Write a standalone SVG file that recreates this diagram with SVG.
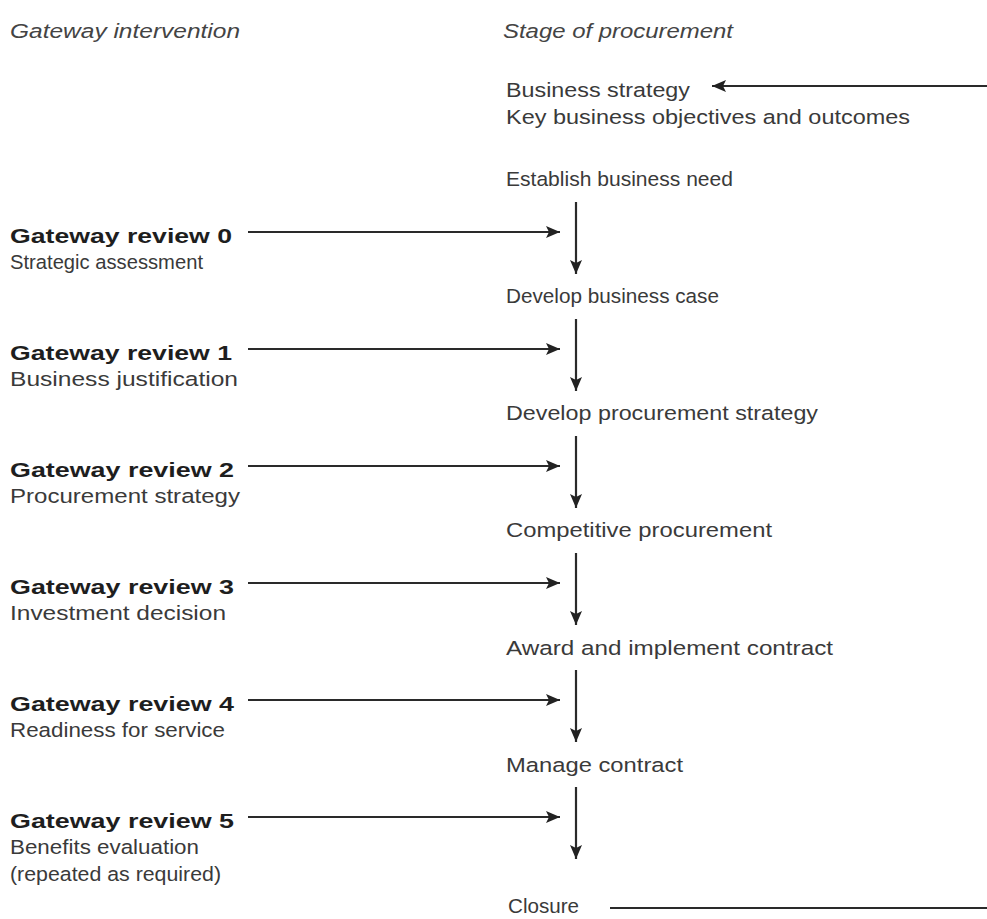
<svg xmlns="http://www.w3.org/2000/svg" width="987" height="919" viewBox="0 0 987 919">
<defs>
<marker id="ah" viewBox="0 0 14 12" refX="14" refY="6" markerWidth="14" markerHeight="12" markerUnits="userSpaceOnUse" orient="auto">
<path d="M0,0 L14,6 L0,12 L3,6 Z" fill="#222"/>
</marker>
<style>
text{font-family:"Liberation Sans",Arial,sans-serif;font-size:20.5px;fill:#3a3a3a}
.h{font-style:italic;fill:#444}
.b{font-weight:bold;fill:#1e1e1e}
.c{stroke:#2a2a2a;stroke-width:2.2;fill:none}
</style>
</defs>
<rect width="987" height="919" fill="#fff"/>
<g id="headers">
<text class="h" x="10" y="38" textLength="230" lengthAdjust="spacingAndGlyphs">Gateway intervention</text>
<text class="h" x="503" y="38" textLength="230" lengthAdjust="spacingAndGlyphs">Stage of procurement</text>
</g>
<g id="stage-strategy">
<text x="506" y="97" textLength="184" lengthAdjust="spacingAndGlyphs">Business strategy</text>
<text x="506" y="124" textLength="404" lengthAdjust="spacingAndGlyphs">Key business objectives and outcomes</text>
</g>
<g id="stage-need"><text x="506" y="186" textLength="227" lengthAdjust="spacingAndGlyphs">Establish business need</text></g>
<g id="stage-case"><text x="506" y="303" textLength="213" lengthAdjust="spacingAndGlyphs">Develop business case</text></g>
<g id="stage-procstrat"><text x="506" y="420" textLength="312" lengthAdjust="spacingAndGlyphs">Develop procurement strategy</text></g>
<g id="stage-competitive"><text x="506" y="537" textLength="266" lengthAdjust="spacingAndGlyphs">Competitive procurement</text></g>
<g id="stage-award"><text x="506" y="655" textLength="327" lengthAdjust="spacingAndGlyphs">Award and implement contract</text></g>
<g id="stage-manage"><text x="506" y="772" textLength="177" lengthAdjust="spacingAndGlyphs">Manage contract</text></g>
<g id="stage-closure"><text x="508" y="913" textLength="71" lengthAdjust="spacingAndGlyphs">Closure</text></g>
<g id="gr0">
<text class="b" x="10" y="243" textLength="222" lengthAdjust="spacingAndGlyphs">Gateway review 0</text>
<text x="10" y="269" textLength="193" lengthAdjust="spacingAndGlyphs">Strategic assessment</text>
</g>
<g id="gr1">
<text class="b" x="10" y="360" textLength="222" lengthAdjust="spacingAndGlyphs">Gateway review 1</text>
<text x="10" y="386" textLength="228" lengthAdjust="spacingAndGlyphs">Business justification</text>
</g>
<g id="gr2">
<text class="b" x="10" y="477" textLength="224" lengthAdjust="spacingAndGlyphs">Gateway review 2</text>
<text x="10" y="503" textLength="230" lengthAdjust="spacingAndGlyphs">Procurement strategy</text>
</g>
<g id="gr3">
<text class="b" x="10" y="594" textLength="224" lengthAdjust="spacingAndGlyphs">Gateway review 3</text>
<text x="10" y="620" textLength="216" lengthAdjust="spacingAndGlyphs">Investment decision</text>
</g>
<g id="gr4">
<text class="b" x="10" y="711" textLength="224" lengthAdjust="spacingAndGlyphs">Gateway review 4</text>
<text x="10" y="737" textLength="215" lengthAdjust="spacingAndGlyphs">Readiness for service</text>
</g>
<g id="gr5">
<text class="b" x="10" y="828" textLength="224" lengthAdjust="spacingAndGlyphs">Gateway review 5</text>
<text x="10" y="854" textLength="189" lengthAdjust="spacingAndGlyphs">Benefits evaluation</text>
<text x="10" y="881" textLength="211" lengthAdjust="spacingAndGlyphs">(repeated as required)</text>
</g>
<g id="connectors" class="c">
<line class="c" x1="987" y1="86" x2="712" y2="86" marker-end="url(#ah)"/>
<line class="c" x1="610" y1="908" x2="987" y2="908"/>
<line class="c" x1="248" y1="232" x2="560" y2="232" marker-end="url(#ah)"/>
<line class="c" x1="248" y1="349" x2="560" y2="349" marker-end="url(#ah)"/>
<line class="c" x1="248" y1="466" x2="560" y2="466" marker-end="url(#ah)"/>
<line class="c" x1="248" y1="583" x2="560" y2="583" marker-end="url(#ah)"/>
<line class="c" x1="248" y1="700" x2="560" y2="700" marker-end="url(#ah)"/>
<line class="c" x1="248" y1="817" x2="560" y2="817" marker-end="url(#ah)"/>
<line class="c" x1="576" y1="202" x2="576" y2="274" marker-end="url(#ah)"/>
<line class="c" x1="576" y1="319" x2="576" y2="391" marker-end="url(#ah)"/>
<line class="c" x1="576" y1="436" x2="576" y2="508" marker-end="url(#ah)"/>
<line class="c" x1="576" y1="553" x2="576" y2="625" marker-end="url(#ah)"/>
<line class="c" x1="576" y1="670" x2="576" y2="742" marker-end="url(#ah)"/>
<line class="c" x1="576" y1="787" x2="576" y2="859" marker-end="url(#ah)"/>
</g>
</svg>
